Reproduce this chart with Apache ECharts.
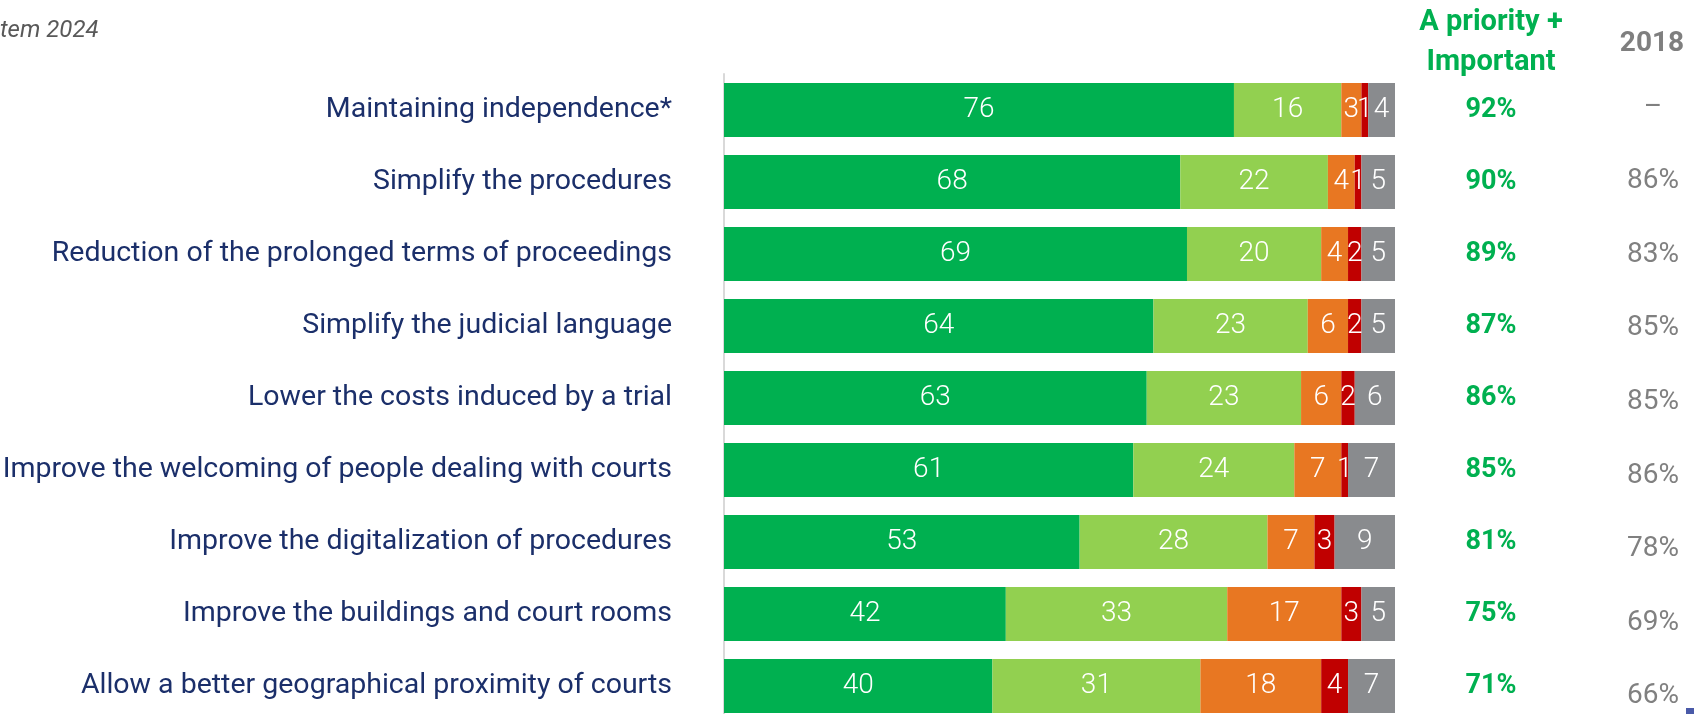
<!DOCTYPE html>
<html>
<head>
<meta charset="utf-8">
<script src="https://cdn.jsdelivr.net/npm/echarts@6/dist/echarts.min.js"></script>
<style>
  html, body { margin: 0; padding: 0; background: #fff; }
  #chart { width: 1694px; height: 714px; }
</style>
</head>
<body>
<div id="chart"></div>
<script>
  var categories = [
    'Maintaining independence*',
    'Simplify the procedures',
    'Reduction of the prolonged terms of proceedings',
    'Simplify the judicial language',
    'Lower the costs induced by a trial',
    'Improve the welcoming of people dealing with courts',
    'Improve the digitalization of procedures',
    'Improve the buildings and court rooms',
    'Allow a better geographical proximity of courts'
  ];
  // stacked segments, same row order as categories
  var aPriority = [76, 68, 69, 64, 63, 61, 53, 42, 40];
  var important = [16, 22, 20, 23, 23, 24, 28, 33, 31];
  var notVery = [3, 4, 4, 6, 6, 7, 7, 17, 18];
  var notAtAll = [1, 1, 2, 2, 2, 1, 3, 3, 4];
  var dontKnow = [4, 5, 5, 5, 6, 7, 9, 5, 7];
  var priorityPlusImportant = ['92%', '90%', '89%', '87%', '86%', '85%', '81%', '75%', '71%'];
  var results2018 = ['–', '86%', '83%', '85%', '85%', '86%', '78%', '69%', '66%'];

  var segColors = ['#00b050', '#92d050', '#e87722', '#c00000', '#898b8e'];
  var segData = [aPriority, important, notVery, notAtAll, dontKnow];
  var font = 'Roboto, "Noto Sans", sans-serif';

  var dom = document.getElementById('chart');
  var myChart = echarts.init(dom);

  var series = segData.map(function (arr, k) {
    return {
      type: 'bar',
      stack: 'total',
      xAxisIndex: 0,
      yAxisIndex: 0,
      barWidth: 54,
      itemStyle: { color: segColors[k] },
      label: {
        show: true,
        position: 'inside',
        color: '#fff',
        fontFamily: font,
        fontWeight: 300,
        fontSize: 28
      },
      data: arr
    };
  });

  function columnSeries(idx, texts, style) {
    return {
      type: 'scatter',
      xAxisIndex: idx,
      yAxisIndex: idx,
      symbolSize: 1,
      itemStyle: { color: 'rgba(0,0,0,0)', opacity: 1 },
      silent: true,
      label: Object.assign({
        show: true,
        position: 'inside',
        fontFamily: font,
        formatter: function (p) { return texts[p.dataIndex]; }
      }, style),
      data: texts.map(function (t, i) { return [0.5, i]; })
    };
  }
  series.push(columnSeries(1, priorityPlusImportant, { color: '#00b050', fontWeight: 'bold', fontSize: 27 }));
  series.push(columnSeries(2, results2018, { color: '#808080', fontSize: 28 }));

  function hiddenY(gi) {
    return { type: 'category', gridIndex: gi, inverse: true, data: categories, show: false };
  }
  function hiddenX(gi) {
    return { type: 'value', gridIndex: gi, min: 0, max: 1, show: false };
  }

  var option = {
    animation: false,
    grid: [
      { left: 724, right: 299, top: 74, height: 648, outerBoundsMode: 'none' },
      { left: 1441, width: 100, top: 74, height: 648, outerBoundsMode: 'none' },
      { left: 1603, width: 100, top: 71, height: 662, outerBoundsMode: 'none' }
    ],
    xAxis: [
      { type: 'value', gridIndex: 0, min: 0, max: 100, show: false },
      hiddenX(1),
      hiddenX(2)
    ],
    yAxis: [
      {
        type: 'category',
        gridIndex: 0,
        inverse: true,
        data: categories,
        axisLine: { lineStyle: { color: '#d9d9d9', width: 2 } },
        axisTick: { length: 9, lineStyle: { color: '#d9d9d9', width: 2 } },
        axisLabel: { color: '#1b2f6a', fontFamily: font, fontSize: 28.5, margin: 52 }
      },
      hiddenY(1),
      hiddenY(2)
    ],
    graphic: [
      { type: 'text', left: 0, top: 19, style: { text: 'tem 2024', fill: '#595959', font: 'italic 24px ' + font } },
      { type: 'text', x: 1491, y: 3, style: { text: 'A priority +\nImportant', fill: '#00b050', font: 'bold 29px ' + font, textAlign: 'center', lineHeight: 40 } },
      { type: 'text', x: 1652, y: 30, style: { text: '2018', fill: '#7f7f7f', font: 'bold 28px ' + font, textAlign: 'center' } },
      { type: 'rect', shape: { x: 1686, y: 708, width: 8, height: 6 }, style: { fill: '#4a5aa8' } }
    ],
    series: series
  };
  myChart.setOption(option);
</script>
</body>
</html>
